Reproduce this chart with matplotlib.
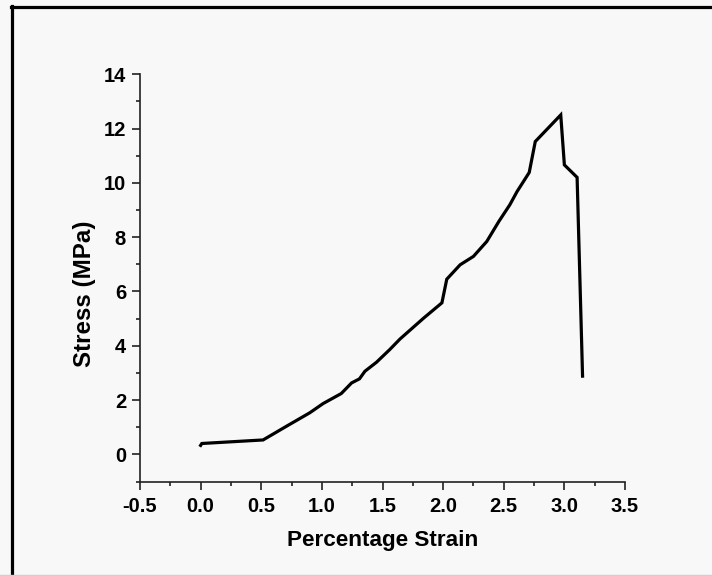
import matplotlib
matplotlib.use("Agg")
import matplotlib.pyplot as plt
from matplotlib.lines import Line2D
import numpy as np

strain = [0.0, 0.01, 0.515, 0.71, 0.90, 1.01, 1.16, 1.245, 1.31, 1.355, 1.45, 1.56,
          1.645, 1.84, 1.99, 2.03, 2.14, 2.25, 2.36, 2.46, 2.55, 2.61, 2.71, 2.76,
          2.97, 3.00, 3.105, 3.15]
stress = [0.33, 0.40, 0.53, 1.04, 1.53, 1.87, 2.24, 2.63, 2.78, 3.06, 3.39, 3.86,
          4.25, 5.02, 5.58, 6.45, 6.98, 7.29, 7.84, 8.58, 9.19, 9.68, 10.38, 11.52,
          12.5, 10.66, 10.2, 2.88]

x_ticks = [-0.5, 0.0, 0.5, 1.0, 1.5, 2.0, 2.5, 3.0, 3.5]
x_tick_labels = ["-0.5", "0.0", "0.5", "1.0", "1.5", "2.0", "2.5", "3.0", "3.5"]
y_ticks = [0, 2, 4, 6, 8, 10, 12, 14]

plt.rcParams['font.family'] = ['Liberation Sans', 'DejaVu Sans']
plt.rcParams['font.weight'] = 'bold'

W, H = 712, 576
fig = plt.figure(figsize=(W / 100, H / 100), dpi=100, facecolor='#f8f8f8')
ax = fig.add_axes([140 / W, 1 - 481.5 / H, 485 / W, (481.5 - 74.2) / H])
ax.set_facecolor('none')

ax.plot(strain, stress, color='black', lw=2.3, solid_joinstyle='miter')

ax.set_xlim(-0.5, 3.5)
ax.set_ylim(-1, 14)
ax.set_xticks(x_ticks)
ax.set_xticklabels(x_tick_labels)
ax.set_yticks(y_ticks)
ax.set_xticks(np.arange(-0.25, 3.5, 0.5), minor=True)
ax.set_yticks(np.arange(-1, 14, 2), minor=True)

for s in ['top', 'right']:
    ax.spines[s].set_visible(False)
for s in ['left', 'bottom']:
    ax.spines[s].set_linewidth(1.2)
    ax.spines[s].set_color('#222222')

ax.tick_params(which='major', direction='out', length=6, width=1.2, color='#222222',
               labelsize=14.5)
ax.tick_params(axis='x', which='major', pad=5)
ax.tick_params(axis='y', which='major', pad=4)
ax.tick_params(which='minor', direction='out', length=3, width=1.2, color='#222222')
for lab in ax.get_xticklabels() + ax.get_yticklabels():
    lab.set_fontweight('bold')

ax.set_xlabel('Percentage Strain', fontsize=16.2, fontweight='bold')
ax.set_ylabel('Stress (MPa)', fontsize=17.4, fontweight='bold')
ax.xaxis.set_label_coords(0.5, -0.118)
ax.yaxis.set_label_coords(-0.0907, 0.461)

# frame lines (cropped border)
fig.add_artist(Line2D([11 / W, 1.0], [1 - 6.5 / H, 1 - 6.5 / H], color='black', lw=2.3,
                      transform=fig.transFigure))
fig.add_artist(Line2D([12 / W, 12 / W], [0, 1 - 5.5 / H], color='black', lw=2.3,
                      transform=fig.transFigure))
fig.add_artist(Line2D([0, 1], [1 - 575 / H, 1 - 575 / H], color='#cfcfcf', lw=1,
                      transform=fig.transFigure))

fig.savefig('out.png', dpi=100, facecolor=fig.get_facecolor())
